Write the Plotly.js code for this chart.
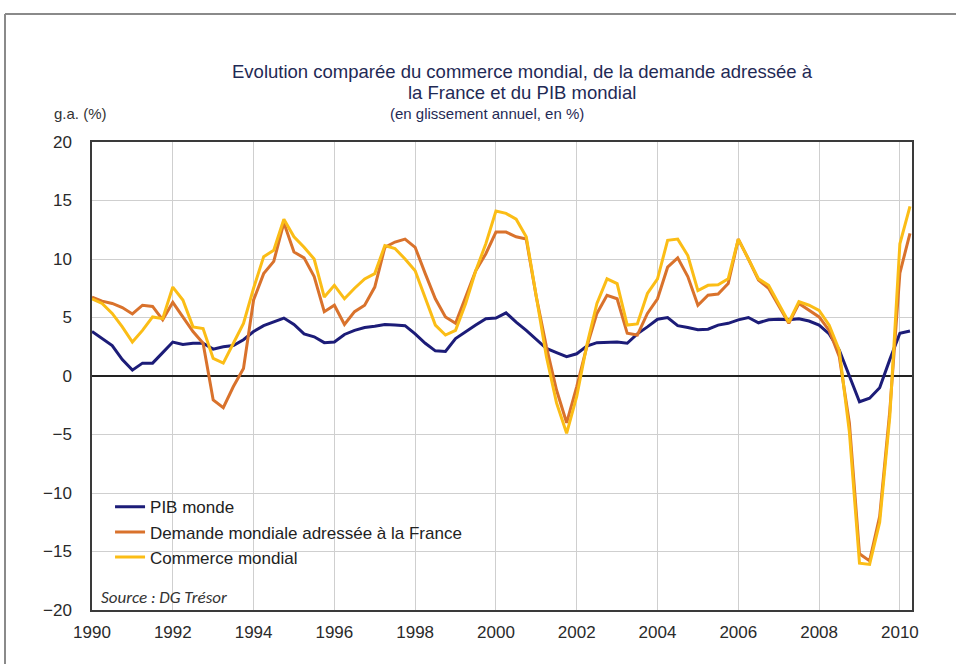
<!DOCTYPE html>
<html>
<head>
<meta charset="utf-8">
<script src="https://cdn.plot.ly/plotly-3.0.1.min.js"></script>
<style>
html,body{margin:0;padding:0;background:#fff;}
#chart{width:956px;height:664px;}
</style>
</head>
<body>
<div id="chart"></div>
<script>
// Quarterly dates (decimal years), 1990 Q1 .. 2010 Q2
const quarters = [
  1990.00,1990.25,1990.50,1990.75, 1991.00,1991.25,1991.50,1991.75,
  1992.00,1992.25,1992.50,1992.75, 1993.00,1993.25,1993.50,1993.75,
  1994.00,1994.25,1994.50,1994.75, 1995.00,1995.25,1995.50,1995.75,
  1996.00,1996.25,1996.50,1996.75, 1997.00,1997.25,1997.50,1997.75,
  1998.00,1998.25,1998.50,1998.75, 1999.00,1999.25,1999.50,1999.75,
  2000.00,2000.25,2000.50,2000.75, 2001.00,2001.25,2001.50,2001.75,
  2002.00,2002.25,2002.50,2002.75, 2003.00,2003.25,2003.50,2003.75,
  2004.00,2004.25,2004.50,2004.75, 2005.00,2005.25,2005.50,2005.75,
  2006.00,2006.25,2006.50,2006.75, 2007.00,2007.25,2007.50,2007.75,
  2008.00,2008.25,2008.50,2008.75, 2009.00,2009.25,2009.50,2009.75,
  2010.00,2010.25
];

const pibMonde = [
  3.8,3.2,2.6,1.4, 0.5,1.1,1.1,2.0,
  2.9,2.7,2.8,2.8, 2.3,2.5,2.6,3.1,
  3.8,4.3,4.6,4.95, 4.4,3.6,3.35,2.85,
  2.9,3.55,3.9,4.15, 4.25,4.4,4.35,4.3,
  3.6,2.8,2.15,2.1, 3.2,3.8,4.35,4.9,
  4.95,5.4,4.6,3.9, 3.1,2.35,2.0,1.65,
  1.9,2.55,2.85,2.9, 2.9,2.8,3.6,4.2,
  4.85,5.0,4.3,4.15, 3.95,4.0,4.35,4.5,
  4.8,5.0,4.55,4.8, 4.85,4.8,4.9,4.7,
  4.35,3.6,2.2,0.0, -2.2,-1.9,-1.0,1.4,
  3.65,3.85
];

const demandeFrance = [
  6.75,6.4,6.2,5.85, 5.3,6.05,5.95,4.8,
  6.3,5.05,3.8,2.8, -2.05,-2.7,-0.9,0.65,
  6.5,8.75,9.8,13.1, 10.6,10.1,8.5,5.5,
  6.05,4.4,5.5,6.05, 7.6,11.0,11.45,11.7,
  11.0,8.75,6.6,5.05, 4.5,6.75,9.0,10.45,
  12.3,12.3,11.9,11.7, 6.75,2.5,-1.2,-4.0,
  -0.9,2.5,5.35,6.9, 6.6,3.65,3.5,5.35,
  6.6,9.3,10.1,8.5, 6.05,6.9,7.0,7.9,
  11.7,10.0,8.2,7.5, 6.05,4.5,6.2,5.6,
  5.05,3.9,1.65,-4.0, -15.2,-15.8,-12.0,-3.0,
  8.8,12.2
];

const commerceMondial = [
  6.6,6.2,5.35,4.2, 2.9,3.9,5.05,4.9,
  7.6,6.5,4.2,4.05, 1.5,1.1,2.8,4.5,
  7.5,10.2,10.75,13.4, 11.9,11.0,10.0,6.75,
  7.75,6.6,7.5,8.3, 8.75,11.15,10.9,10.0,
  9.0,6.75,4.35,3.5, 3.9,6.2,9.0,11.3,
  14.1,13.9,13.4,11.9, 6.75,1.65,-2.3,-4.9,
  -1.75,2.65,6.2,8.3, 7.9,4.35,4.45,7.05,
  8.3,11.6,11.7,10.3, 7.3,7.75,7.8,8.3,
  11.7,10.0,8.3,7.75, 6.2,4.6,6.35,6.05,
  5.6,4.35,2.2,-4.8, -16.0,-16.1,-12.5,-3.5,
  11.3,14.5
];

const seriesNames = ["PIB monde", "Demande mondiale adressée à la France", "Commerce mondial"];
const seriesColors = ["#1c1c78", "#d9722c", "#fbbd16"];
const xTickVals = [1990,1992,1994,1996,1998,2000,2002,2004,2006,2008,2010];
const xTickText = ["1990","1992","1994","1996","1998","2000","2002","2004","2006","2008","2010"];
const yTickVals = [-20,-15,-10,-5,0,5,10,15,20];

const titleLine1 = "Evolution comparée du commerce mondial, de la demande adressée à";
const titleLine2 = "la France et du PIB mondial";
const subtitleText = "(en glissement annuel, en %)";
const unitText = "g.a. (%)";
const sourceText = "Source : DG Trésor";

const allSeries = [pibMonde, demandeFrance, commerceMondial];
const traces = allSeries.map((vals, i) => ({
  type: "scatter",
  mode: "lines",
  x: quarters,
  y: vals,
  name: seriesNames[i],
  line: {color: seriesColors[i], width: 3},
  hoverinfo: "x+y+name"
}));

const narrow = "'Liberation Sans Narrow', 'Arial Narrow', 'Liberation Sans', Arial, sans-serif";
const baseFont = "'Liberation Sans', Arial, sans-serif";
const titleColor = "#1f2a55";

const layout = {
  width: 956,
  height: 664,
  paper_bgcolor: "#ffffff",
  plot_bgcolor: "#ffffff",
  margin: {l: 92, r: 44, t: 142, b: 54},
  showlegend: true,
  title: {
    text: titleLine1,
    font: {family: narrow, size: 18.5, color: titleColor},
    xref: "container", x: 522/956, xanchor: "center",
    yref: "container", y: 1 - 72/664, yanchor: "middle"
  },
  xaxis: {
    range: [1990, 2010.3],
    tickvals: xTickVals,
    ticktext: xTickText,
    showgrid: true,
    gridcolor: "#cfcfcf",
    gridwidth: 1,
    zeroline: false,
    showline: true,
    mirror: true,
    linecolor: "#3a3a3a",
    linewidth: 1.5,
    ticks: "",
    ticklabelstandoff: 6,
    tickfont: {family: baseFont, size: 17, color: "#2a2a2a"}
  },
  yaxis: {
    range: [-20, 20],
    tickvals: yTickVals,
    showgrid: true,
    gridcolor: "#cfcfcf",
    gridwidth: 1,
    zeroline: true,
    zerolinecolor: "#222222",
    zerolinewidth: 2,
    showline: true,
    mirror: true,
    linecolor: "#3a3a3a",
    linewidth: 1.5,
    ticks: "",
    ticklabelstandoff: 15,
    tickfont: {family: baseFont, size: 17, color: "#2a2a2a"}
  },
  legend: {
    x: 0.022, xanchor: "left",
    y: 0.258, yanchor: "top",
    bgcolor: "rgba(0,0,0,0)",
    borderwidth: 0,
    font: {family: baseFont, size: 17, color: "#222222"},
    tracegroupgap: 0,
    itemwidth: 30
  },
  annotations: [
    {
      text: titleLine2, xref: "paper", yref: "paper",
      x: (522-92)/820, y: (610-93)/468, xanchor: "center", yanchor: "middle",
      showarrow: false, font: {family: narrow, size: 18.5, color: titleColor}
    },
    {
      text: subtitleText, xref: "paper", yref: "paper",
      x: (487-92)/820, y: (610-113)/468, xanchor: "center", yanchor: "middle",
      showarrow: false, font: {family: narrow, size: 15, color: titleColor}
    },
    {
      text: unitText, xref: "paper", yref: "paper",
      x: (52-92)/820, y: (610-113)/468, xanchor: "left", yanchor: "middle",
      showarrow: false, font: {family: narrow, size: 15, color: "#333333"}
    },
    {
      text: "<i>" + sourceText + "</i>", xref: "paper", yref: "paper",
      x: (99-92)/820, y: (610-597)/468, xanchor: "left", yanchor: "middle",
      showarrow: false, font: {family: "Carlito, 'Open Sans', 'Liberation Sans', sans-serif", size: 17, color: "#333333"}
    }
  ],
  shapes: [
    {type: "line", xref: "paper", yref: "paper",
     x0: (5-92)/820, x1: (960-92)/820, y0: (610-14)/468, y1: (610-14)/468,
     line: {color: "#8a8a8a", width: 2}},
    {type: "line", xref: "paper", yref: "paper",
     x0: (5-92)/820, x1: (5-92)/820, y0: (610-14)/468, y1: (610-670)/468,
     line: {color: "#8a8a8a", width: 2}}
  ]
};

Plotly.newPlot("chart", traces, layout, {displayModeBar: false, responsive: false});
</script>
</body>
</html>
